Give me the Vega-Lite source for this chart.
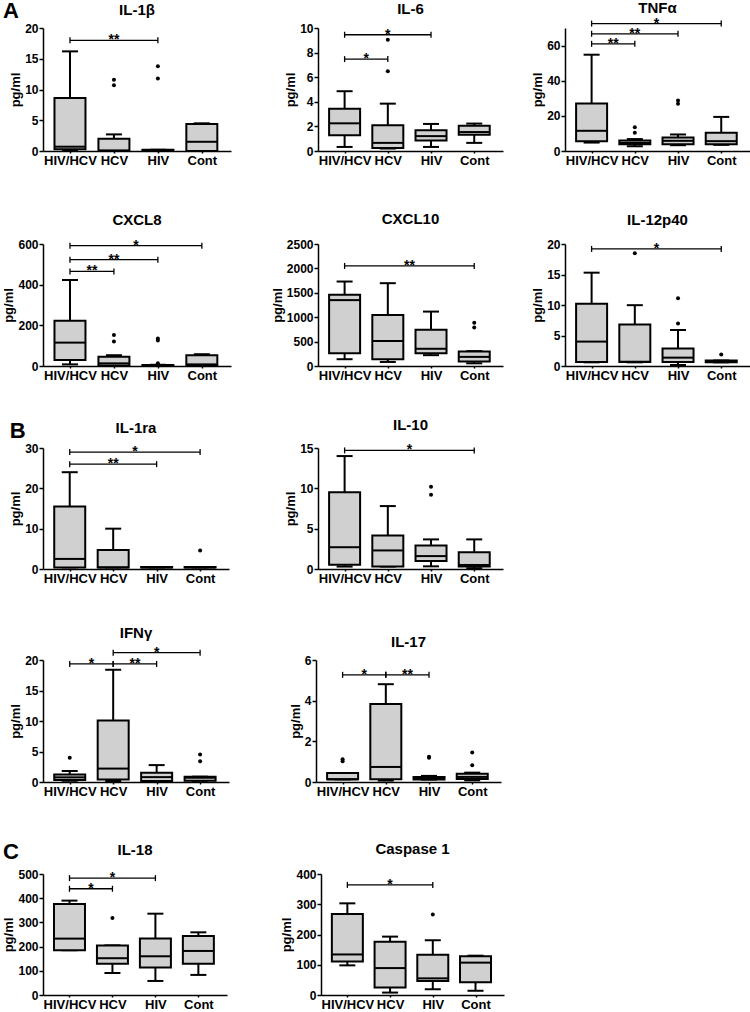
{
"$schema":"https://vega.github.io/schema/vega-lite/v6.json",
"padding":{"left":2,"top":0,"right":0,"bottom":0},
"datasets":{"d":[
{"kind":"box","panel":"IL-1β","group":"HIV/HCV","lo":0.1,"q1":0.3,"med":0.7,"q3":8.6,"hi":16.2},
{"kind":"box","panel":"IL-1β","group":"HCV","lo":0,"q1":0,"med":0.1,"q3":2.0,"hi":2.7},
{"kind":"box","panel":"IL-1β","group":"HIV","lo":0.1,"q1":0.1,"med":0.1,"q3":0.2,"hi":0.2},
{"kind":"box","panel":"IL-1β","group":"Cont","lo":0,"q1":0,"med":1.5,"q3":4.4,"hi":4.5},
{"kind":"out","panel":"IL-1β","group":"HCV","v":11.6},
{"kind":"out","panel":"IL-1β","group":"HCV","v":10.7},
{"kind":"out","panel":"IL-1β","group":"HIV","v":13.8},
{"kind":"out","panel":"IL-1β","group":"HIV","v":11.8},
{"kind":"sig","panel":"IL-1β","g1":"HIV/HCV","g2":"HIV","y":18,"label":"**"},

{"kind":"box","panel":"IL-6","group":"HIV/HCV","lo":0.33,"q1":1.29,"med":2.25,"q3":3.43,"hi":4.86},
{"kind":"box","panel":"IL-6","group":"HCV","lo":0.2,"q1":0.25,"med":0.66,"q3":2.09,"hi":3.85},
{"kind":"box","panel":"IL-6","group":"HIV","lo":0.33,"q1":0.85,"med":1.21,"q3":1.68,"hi":2.2},
{"kind":"box","panel":"IL-6","group":"Cont","lo":0.66,"q1":1.32,"med":1.54,"q3":2.06,"hi":2.23},
{"kind":"out","panel":"IL-6","group":"HCV","v":9.04},
{"kind":"out","panel":"IL-6","group":"HCV","v":6.48},
{"kind":"sig","panel":"IL-6","g1":"HIV/HCV","g2":"HIV","y":9.45,"label":"*"},
{"kind":"sig","panel":"IL-6","g1":"HIV/HCV","g2":"HCV","y":7.47,"label":"*"},

{"kind":"box","panel":"TNFα","group":"HIV/HCV","lo":4.8,"q1":5.6,"med":11.5,"q3":27.1,"hi":54.8},
{"kind":"box","panel":"TNFα","group":"HCV","lo":2.7,"q1":3.8,"med":4.6,"q3":6.0,"hi":6.8},
{"kind":"box","panel":"TNFα","group":"HIV","lo":3.3,"q1":3.8,"med":5.8,"q3":7.7,"hi":9.4},
{"kind":"box","panel":"TNFα","group":"Cont","lo":3.5,"q1":3.8,"med":5.6,"q3":10.4,"hi":19.4},
{"kind":"out","panel":"TNFα","group":"HCV","v":13.5},
{"kind":"out","panel":"TNFα","group":"HCV","v":10.4},
{"kind":"out","panel":"TNFα","group":"HIV","v":28.8},
{"kind":"out","panel":"TNFα","group":"HIV","v":26.9},
{"kind":"sig","panel":"TNFα","g1":"HIV/HCV","g2":"Cont","y":72.5,"label":"*"},
{"kind":"sig","panel":"TNFα","g1":"HIV/HCV","g2":"HIV","y":66.7,"label":"**"},
{"kind":"sig","panel":"TNFα","g1":"HIV/HCV","g2":"HCV","y":61,"label":"**"},

{"kind":"box","panel":"CXCL8","group":"HIV/HCV","lo":8,"q1":30,"med":115,"q3":222,"hi":423},
{"kind":"box","panel":"CXCL8","group":"HCV","lo":0,"q1":3,"med":13,"q3":46,"hi":53},
{"kind":"box","panel":"CXCL8","group":"HIV","lo":0,"q1":0,"med":2,"q3":5,"hi":6},
{"kind":"box","panel":"CXCL8","group":"Cont","lo":0,"q1":0,"med":8,"q3":53,"hi":58},
{"kind":"out","panel":"CXCL8","group":"HCV","v":153},
{"kind":"out","panel":"CXCL8","group":"HCV","v":120},
{"kind":"out","panel":"CXCL8","group":"HIV","v":135},
{"kind":"out","panel":"CXCL8","group":"HIV","v":125},
{"kind":"out","panel":"CXCL8","group":"HIV","v":13},
{"kind":"sig","panel":"CXCL8","g1":"HIV/HCV","g2":"Cont","y":592,"label":"*"},
{"kind":"sig","panel":"CXCL8","g1":"HIV/HCV","g2":"HIV","y":523,"label":"**"},
{"kind":"sig","panel":"CXCL8","g1":"HIV/HCV","g2":"HCV","y":465,"label":"**"},

{"kind":"box","panel":"CXCL10","group":"HIV/HCV","lo":139,"q1":263,"med":1350,"q3":1461,"hi":1731},
{"kind":"box","panel":"CXCL10","group":"HCV","lo":83,"q1":139,"med":512,"q3":1046,"hi":1697},
{"kind":"box","panel":"CXCL10","group":"HIV","lo":222,"q1":263,"med":353,"q3":741,"hi":1115},
{"kind":"box","panel":"CXCL10","group":"Cont","lo":55,"q1":90,"med":187,"q3":298,"hi":305},
{"kind":"out","panel":"CXCL10","group":"Cont","v":790},
{"kind":"out","panel":"CXCL10","group":"Cont","v":886},
{"kind":"sig","panel":"CXCL10","g1":"HIV/HCV","g2":"Cont","y":2050,"label":"**"},

{"kind":"box","panel":"IL-12p40","group":"HIV/HCV","lo":0.6,"q1":0.66,"med":4.0,"q3":10.2,"hi":15.3},
{"kind":"box","panel":"IL-12p40","group":"HCV","lo":0.6,"q1":0.66,"med":0.7,"q3":6.8,"hi":9.97},
{"kind":"box","panel":"IL-12p40","group":"HIV","lo":0.16,"q1":0.66,"med":1.37,"q3":2.85,"hi":5.9},
{"kind":"box","panel":"IL-12p40","group":"Cont","lo":0.6,"q1":0.6,"med":0.7,"q3":0.9,"hi":0.9},
{"kind":"out","panel":"IL-12p40","group":"HCV","v":18.5},
{"kind":"out","panel":"IL-12p40","group":"HIV","v":11.1},
{"kind":"out","panel":"IL-12p40","group":"HIV","v":6.96},
{"kind":"out","panel":"IL-12p40","group":"Cont","v":1.9},
{"kind":"sig","panel":"IL-12p40","g1":"HIV/HCV","g2":"Cont","y":19.2,"label":"*"},

{"kind":"box","panel":"IL-1ra","group":"HIV/HCV","lo":0.4,"q1":0.4,"med":2.5,"q3":15.5,"hi":24.0},
{"kind":"box","panel":"IL-1ra","group":"HCV","lo":0.4,"q1":0.4,"med":0.4,"q3":4.7,"hi":10.0},
{"kind":"box","panel":"IL-1ra","group":"HIV","lo":0.4,"q1":0.4,"med":0.4,"q3":0.5,"hi":0.5},
{"kind":"box","panel":"IL-1ra","group":"Cont","lo":0.4,"q1":0.4,"med":0.4,"q3":0.5,"hi":0.5},
{"kind":"out","panel":"IL-1ra","group":"Cont","v":4.6},
{"kind":"sig","panel":"IL-1ra","g1":"HIV/HCV","g2":"Cont","y":29.0,"label":"*"},
{"kind":"sig","panel":"IL-1ra","g1":"HIV/HCV","g2":"HIV","y":26.0,"label":"**"},

{"kind":"box","panel":"IL-10","group":"HIV/HCV","lo":0.3,"q1":0.53,"med":2.7,"q3":9.5,"hi":14.0},
{"kind":"box","panel":"IL-10","group":"HCV","lo":0.3,"q1":0.3,"med":2.3,"q3":4.16,"hi":7.8},
{"kind":"box","panel":"IL-10","group":"HIV","lo":0.33,"q1":0.98,"med":1.6,"q3":2.9,"hi":3.67},
{"kind":"box","panel":"IL-10","group":"Cont","lo":0.1,"q1":0.3,"med":0.5,"q3":2.08,"hi":3.67},
{"kind":"out","panel":"IL-10","group":"HIV","v":10.2},
{"kind":"out","panel":"IL-10","group":"HIV","v":9.2},
{"kind":"sig","panel":"IL-10","g1":"HIV/HCV","g2":"Cont","y":14.7,"label":"*"},

{"kind":"box","panel":"IFNγ","group":"HIV/HCV","lo":0.2,"q1":0.33,"med":0.76,"q3":1.25,"hi":1.8},
{"kind":"box","panel":"IFNγ","group":"HCV","lo":0.16,"q1":0.43,"med":2.2,"q3":10.1,"hi":18.4},
{"kind":"box","panel":"IFNγ","group":"HIV","lo":0.1,"q1":0.16,"med":0.8,"q3":1.52,"hi":2.77},
{"kind":"box","panel":"IFNγ","group":"Cont","lo":0.2,"q1":0.2,"med":0.7,"q3":0.87,"hi":0.87},
{"kind":"out","panel":"IFNγ","group":"HIV/HCV","v":3.97},
{"kind":"out","panel":"IFNγ","group":"Cont","v":3.4},
{"kind":"out","panel":"IFNγ","group":"Cont","v":4.5},
{"kind":"sig","panel":"IFNγ","g1":"HIV/HCV","g2":"HCV","y":19.35,"label":"*"},
{"kind":"sig","panel":"IFNγ","g1":"HCV","g2":"HIV","y":19.35,"label":"**"},
{"kind":"sig","panel":"IFNγ","g1":"HCV","g2":"Cont","y":21.2,"label":"*"},

{"kind":"box","panel":"IL-17","group":"HIV/HCV","lo":0.13,"q1":0.13,"med":0.13,"q3":0.44,"hi":0.44},
{"kind":"box","panel":"IL-17","group":"HCV","lo":0.07,"q1":0.13,"med":0.74,"q3":3.84,"hi":4.81},
{"kind":"box","panel":"IL-17","group":"HIV","lo":0.12,"q1":0.12,"med":0.18,"q3":0.25,"hi":0.3},
{"kind":"box","panel":"IL-17","group":"Cont","lo":0.08,"q1":0.15,"med":0.25,"q3":0.41,"hi":0.46},
{"kind":"out","panel":"IL-17","group":"HIV/HCV","v":1.02},
{"kind":"out","panel":"IL-17","group":"HIV/HCV","v":1.12},
{"kind":"out","panel":"IL-17","group":"HIV","v":1.19},
{"kind":"out","panel":"IL-17","group":"HIV","v":1.24},
{"kind":"out","panel":"IL-17","group":"Cont","v":1.45},
{"kind":"out","panel":"IL-17","group":"Cont","v":0.82},
{"kind":"sig","panel":"IL-17","g1":"HIV/HCV","g2":"HCV","y":5.27,"label":"*"},
{"kind":"sig","panel":"IL-17","g1":"HCV","g2":"HIV","y":5.27,"label":"**"},

{"kind":"box","panel":"IL-18","group":"HIV/HCV","lo":185,"q1":185,"med":233,"q3":376,"hi":390},
{"kind":"box","panel":"IL-18","group":"HCV","lo":91,"q1":129,"med":152,"q3":205,"hi":205},
{"kind":"box","panel":"IL-18","group":"HIV","lo":58,"q1":114,"med":160,"q3":233,"hi":336},
{"kind":"box","panel":"IL-18","group":"Cont","lo":83,"q1":129,"med":182,"q3":244,"hi":259},
{"kind":"out","panel":"IL-18","group":"HCV","v":318},
{"kind":"sig","panel":"IL-18","g1":"HIV/HCV","g2":"HIV","y":483,"label":"*"},
{"kind":"sig","panel":"IL-18","g1":"HIV/HCV","g2":"HCV","y":439,"label":"*"},

{"kind":"box","panel":"Caspase 1","group":"HIV/HCV","lo":98,"q1":111,"med":134,"q3":268,"hi":303},
{"kind":"box","panel":"Caspase 1","group":"HCV","lo":8,"q1":25,"med":89,"q3":176,"hi":193},
{"kind":"box","panel":"Caspase 1","group":"HIV","lo":19,"q1":46,"med":55,"q3":133,"hi":181},
{"kind":"box","panel":"Caspase 1","group":"Cont","lo":14,"q1":42,"med":107,"q3":128,"hi":130},
{"kind":"out","panel":"Caspase 1","group":"HIV","v":266},
{"kind":"sig","panel":"Caspase 1","g1":"HIV/HCV","g2":"HIV","y":364,"label":"*"}
]},
"spacing":36,
"vconcat":[
{"title":{"text":"A","anchor":"start","fontSize":22,"offset":-22},"spacing":45,"vconcat":[
 {"spacing":53,"hconcat":[
  {"title":{"text":"IL-1β","offset":4},"width":188,"height":123,"data":{"name":"d"},
   "transform":[{"filter":"datum.panel==='IL-1β'"},{"calculate":"indexof(['HIV/HCV','HCV','HIV','Cont'],datum.group)+1","as":"gi"},{"calculate":"indexof(['HIV/HCV','HCV','HIV','Cont'],datum.g1)+1","as":"a"},{"calculate":"indexof(['HIV/HCV','HCV','HIV','Cont'],datum.g2)+1","as":"b"},{"calculate":"(datum.a+datum.b)/2","as":"m"}],
   "encoding":{"x":{"field":"gi","type":"quantitative","title":null,"scale":{"domain":[0.5,4.55],"nice":false,"zero":false},"axis":{"values":[1,2,3,4],"labelExpr":"['HIV/HCV','HCV','HIV','Cont'][datum.value-1]"}},"y":{"field":"lo","type":"quantitative","title":"pg/ml","scale":{"domain":[0,20],"nice":false},"axis":{"values":[0,5,10,15,20]}}},
   "layer":[
{"transform":[{"filter":"datum.kind==='box'"}],"mark":{"type":"rule","color":"black","strokeWidth":2},"encoding":{"y2":{"field":"hi"}}},
{"transform":[{"filter":"datum.kind==='box'"},{"fold":["lo","hi"]}],"mark":{"type":"tick","orient":"horizontal","color":"black","opacity":1,"size":16,"thickness":2},"encoding":{"y":{"field":"value","type":"quantitative","title":"pg/ml"}}},
{"transform":[{"filter":"datum.kind==='box'"}],"mark":{"type":"bar","width":31,"fill":"#d0d0d0","stroke":"black","strokeWidth":2},"encoding":{"y":{"field":"q1","type":"quantitative","title":"pg/ml"},"y2":{"field":"q3"}}},
{"transform":[{"filter":"datum.kind==='box'"}],"mark":{"type":"tick","orient":"horizontal","color":"black","opacity":1,"size":31,"thickness":2},"encoding":{"y":{"field":"med","type":"quantitative","title":"pg/ml"}}},
{"transform":[{"filter":"datum.kind==='out'"}],"mark":{"type":"point","filled":true,"color":"black","size":16,"opacity":1},"encoding":{"y":{"field":"v","type":"quantitative","title":"pg/ml"}}},
{"transform":[{"filter":"datum.kind==='sig'"}],"mark":{"type":"rule","color":"black","strokeWidth":1.3},"encoding":{"x":{"field":"a","type":"quantitative","title":null},"x2":{"field":"b"},"y":{"field":"y","type":"quantitative","title":"pg/ml"}}},
{"transform":[{"filter":"datum.kind==='sig'"},{"fold":["a","b"],"as":["end","pos"]}],"mark":{"type":"tick","orient":"vertical","color":"black","opacity":1,"size":6,"thickness":1.3},"encoding":{"x":{"field":"pos","type":"quantitative","title":null},"y":{"field":"y","type":"quantitative","title":"pg/ml"}}},
{"transform":[{"filter":"datum.kind==='sig'"}],"mark":{"type":"text","fontSize":14,"fontWeight":"bold","baseline":"alphabetic","dy":4,"color":"black"},"encoding":{"x":{"field":"m","type":"quantitative","title":null},"y":{"field":"y","type":"quantitative","title":"pg/ml"},"text":{"field":"label"}}}
   ]},
  {"bounds":"flush","spacing":62,"hconcat":[
  {"title":{"text":"IL-6","offset":5},"width":185,"height":123,"data":{"name":"d"},
   "transform":[{"filter":"datum.panel==='IL-6'"},{"calculate":"indexof(['HIV/HCV','HCV','HIV','Cont'],datum.group)+1","as":"gi"},{"calculate":"indexof(['HIV/HCV','HCV','HIV','Cont'],datum.g1)+1","as":"a"},{"calculate":"indexof(['HIV/HCV','HCV','HIV','Cont'],datum.g2)+1","as":"b"},{"calculate":"(datum.a+datum.b)/2","as":"m"}],
   "encoding":{"x":{"field":"gi","type":"quantitative","title":null,"scale":{"domain":[0.5,4.55],"nice":false,"zero":false},"axis":{"values":[1,2,3,4],"labelExpr":"['HIV/HCV','HCV','HIV','Cont'][datum.value-1]"}},"y":{"field":"lo","type":"quantitative","title":"pg/ml","scale":{"domain":[0,10],"nice":false},"axis":{"values":[0,2,4,6,8,10]}}},
   "layer":[
{"transform":[{"filter":"datum.kind==='box'"}],"mark":{"type":"rule","color":"black","strokeWidth":2},"encoding":{"y2":{"field":"hi"}}},
{"transform":[{"filter":"datum.kind==='box'"},{"fold":["lo","hi"]}],"mark":{"type":"tick","orient":"horizontal","color":"black","opacity":1,"size":16,"thickness":2},"encoding":{"y":{"field":"value","type":"quantitative","title":"pg/ml"}}},
{"transform":[{"filter":"datum.kind==='box'"}],"mark":{"type":"bar","width":31,"fill":"#d0d0d0","stroke":"black","strokeWidth":2},"encoding":{"y":{"field":"q1","type":"quantitative","title":"pg/ml"},"y2":{"field":"q3"}}},
{"transform":[{"filter":"datum.kind==='box'"}],"mark":{"type":"tick","orient":"horizontal","color":"black","opacity":1,"size":31,"thickness":2},"encoding":{"y":{"field":"med","type":"quantitative","title":"pg/ml"}}},
{"transform":[{"filter":"datum.kind==='out'"}],"mark":{"type":"point","filled":true,"color":"black","size":16,"opacity":1},"encoding":{"y":{"field":"v","type":"quantitative","title":"pg/ml"}}},
{"transform":[{"filter":"datum.kind==='sig'"}],"mark":{"type":"rule","color":"black","strokeWidth":1.3},"encoding":{"x":{"field":"a","type":"quantitative","title":null},"x2":{"field":"b"},"y":{"field":"y","type":"quantitative","title":"pg/ml"}}},
{"transform":[{"filter":"datum.kind==='sig'"},{"fold":["a","b"],"as":["end","pos"]}],"mark":{"type":"tick","orient":"vertical","color":"black","opacity":1,"size":6,"thickness":1.3},"encoding":{"x":{"field":"pos","type":"quantitative","title":null},"y":{"field":"y","type":"quantitative","title":"pg/ml"}}},
{"transform":[{"filter":"datum.kind==='sig'"}],"mark":{"type":"text","fontSize":14,"fontWeight":"bold","baseline":"alphabetic","dy":4,"color":"black"},"encoding":{"x":{"field":"m","type":"quantitative","title":null},"y":{"field":"y","type":"quantitative","title":"pg/ml"},"text":{"field":"label"}}}
   ]},
  {"title":{"text":"TNFα","offset":0.5},"width":185,"height":123,"data":{"name":"d"},
   "transform":[{"filter":"datum.panel==='TNFα'"},{"calculate":"indexof(['HIV/HCV','HCV','HIV','Cont'],datum.group)+1","as":"gi"},{"calculate":"indexof(['HIV/HCV','HCV','HIV','Cont'],datum.g1)+1","as":"a"},{"calculate":"indexof(['HIV/HCV','HCV','HIV','Cont'],datum.g2)+1","as":"b"},{"calculate":"(datum.a+datum.b)/2","as":"m"}],
   "encoding":{"x":{"field":"gi","type":"quantitative","title":null,"scale":{"domain":[0.5,4.55],"nice":false,"zero":false},"axis":{"values":[1,2,3,4],"labelExpr":"['HIV/HCV','HCV','HIV','Cont'][datum.value-1]"}},"y":{"field":"lo","type":"quantitative","title":"pg/ml","scale":{"domain":[0,70],"nice":false},"axis":{"values":[0,20,40,60]}}},
   "layer":[
{"transform":[{"filter":"datum.kind==='box'"}],"mark":{"type":"rule","color":"black","strokeWidth":2},"encoding":{"y2":{"field":"hi"}}},
{"transform":[{"filter":"datum.kind==='box'"},{"fold":["lo","hi"]}],"mark":{"type":"tick","orient":"horizontal","color":"black","opacity":1,"size":16,"thickness":2},"encoding":{"y":{"field":"value","type":"quantitative","title":"pg/ml"}}},
{"transform":[{"filter":"datum.kind==='box'"}],"mark":{"type":"bar","width":31,"fill":"#d0d0d0","stroke":"black","strokeWidth":2},"encoding":{"y":{"field":"q1","type":"quantitative","title":"pg/ml"},"y2":{"field":"q3"}}},
{"transform":[{"filter":"datum.kind==='box'"}],"mark":{"type":"tick","orient":"horizontal","color":"black","opacity":1,"size":31,"thickness":2},"encoding":{"y":{"field":"med","type":"quantitative","title":"pg/ml"}}},
{"transform":[{"filter":"datum.kind==='out'"}],"mark":{"type":"point","filled":true,"color":"black","size":16,"opacity":1},"encoding":{"y":{"field":"v","type":"quantitative","title":"pg/ml"}}},
{"transform":[{"filter":"datum.kind==='sig'"}],"mark":{"type":"rule","color":"black","strokeWidth":1.3},"encoding":{"x":{"field":"a","type":"quantitative","title":null},"x2":{"field":"b"},"y":{"field":"y","type":"quantitative","title":"pg/ml"}}},
{"transform":[{"filter":"datum.kind==='sig'"},{"fold":["a","b"],"as":["end","pos"]}],"mark":{"type":"tick","orient":"vertical","color":"black","opacity":1,"size":6,"thickness":1.3},"encoding":{"x":{"field":"pos","type":"quantitative","title":null},"y":{"field":"y","type":"quantitative","title":"pg/ml"}}},
{"transform":[{"filter":"datum.kind==='sig'"}],"mark":{"type":"text","fontSize":14,"fontWeight":"bold","baseline":"alphabetic","dy":4,"color":"black"},"encoding":{"x":{"field":"m","type":"quantitative","title":null},"y":{"field":"y","type":"quantitative","title":"pg/ml"},"text":{"field":"label"}}}
   ]}
  ]}
 ]},
 {"spacing":40,"hconcat":[
  {"title":{"text":"CXCL8","offset":10},"width":188,"height":122,"data":{"name":"d"},
   "transform":[{"filter":"datum.panel==='CXCL8'"},{"calculate":"indexof(['HIV/HCV','HCV','HIV','Cont'],datum.group)+1","as":"gi"},{"calculate":"indexof(['HIV/HCV','HCV','HIV','Cont'],datum.g1)+1","as":"a"},{"calculate":"indexof(['HIV/HCV','HCV','HIV','Cont'],datum.g2)+1","as":"b"},{"calculate":"(datum.a+datum.b)/2","as":"m"}],
   "encoding":{"x":{"field":"gi","type":"quantitative","title":null,"scale":{"domain":[0.5,4.55],"nice":false,"zero":false},"axis":{"values":[1,2,3,4],"labelExpr":"['HIV/HCV','HCV','HIV','Cont'][datum.value-1]"}},"y":{"field":"lo","type":"quantitative","title":"pg/ml","scale":{"domain":[0,600],"nice":false},"axis":{"values":[0,200,400,600]}}},
   "layer":[
{"transform":[{"filter":"datum.kind==='box'"}],"mark":{"type":"rule","color":"black","strokeWidth":2},"encoding":{"y2":{"field":"hi"}}},
{"transform":[{"filter":"datum.kind==='box'"},{"fold":["lo","hi"]}],"mark":{"type":"tick","orient":"horizontal","color":"black","opacity":1,"size":16,"thickness":2},"encoding":{"y":{"field":"value","type":"quantitative","title":"pg/ml"}}},
{"transform":[{"filter":"datum.kind==='box'"}],"mark":{"type":"bar","width":31,"fill":"#d0d0d0","stroke":"black","strokeWidth":2},"encoding":{"y":{"field":"q1","type":"quantitative","title":"pg/ml"},"y2":{"field":"q3"}}},
{"transform":[{"filter":"datum.kind==='box'"}],"mark":{"type":"tick","orient":"horizontal","color":"black","opacity":1,"size":31,"thickness":2},"encoding":{"y":{"field":"med","type":"quantitative","title":"pg/ml"}}},
{"transform":[{"filter":"datum.kind==='out'"}],"mark":{"type":"point","filled":true,"color":"black","size":16,"opacity":1},"encoding":{"y":{"field":"v","type":"quantitative","title":"pg/ml"}}},
{"transform":[{"filter":"datum.kind==='sig'"}],"mark":{"type":"rule","color":"black","strokeWidth":1.3},"encoding":{"x":{"field":"a","type":"quantitative","title":null},"x2":{"field":"b"},"y":{"field":"y","type":"quantitative","title":"pg/ml"}}},
{"transform":[{"filter":"datum.kind==='sig'"},{"fold":["a","b"],"as":["end","pos"]}],"mark":{"type":"tick","orient":"vertical","color":"black","opacity":1,"size":6,"thickness":1.3},"encoding":{"x":{"field":"pos","type":"quantitative","title":null},"y":{"field":"y","type":"quantitative","title":"pg/ml"}}},
{"transform":[{"filter":"datum.kind==='sig'"}],"mark":{"type":"text","fontSize":14,"fontWeight":"bold","baseline":"alphabetic","dy":4,"color":"black"},"encoding":{"x":{"field":"m","type":"quantitative","title":null},"y":{"field":"y","type":"quantitative","title":"pg/ml"},"text":{"field":"label"}}}
   ]},
  {"bounds":"flush","spacing":62,"hconcat":[
  {"title":{"text":"CXCL10","offset":11},"width":185,"height":122,"data":{"name":"d"},
   "transform":[{"filter":"datum.panel==='CXCL10'"},{"calculate":"indexof(['HIV/HCV','HCV','HIV','Cont'],datum.group)+1","as":"gi"},{"calculate":"indexof(['HIV/HCV','HCV','HIV','Cont'],datum.g1)+1","as":"a"},{"calculate":"indexof(['HIV/HCV','HCV','HIV','Cont'],datum.g2)+1","as":"b"},{"calculate":"(datum.a+datum.b)/2","as":"m"}],
   "encoding":{"x":{"field":"gi","type":"quantitative","title":null,"scale":{"domain":[0.5,4.55],"nice":false,"zero":false},"axis":{"values":[1,2,3,4],"labelExpr":"['HIV/HCV','HCV','HIV','Cont'][datum.value-1]"}},"y":{"field":"lo","type":"quantitative","title":"pg/ml","scale":{"domain":[0,2500],"nice":false},"axis":{"values":[0,500,1000,1500,2000,2500]}}},
   "layer":[
{"transform":[{"filter":"datum.kind==='box'"}],"mark":{"type":"rule","color":"black","strokeWidth":2},"encoding":{"y2":{"field":"hi"}}},
{"transform":[{"filter":"datum.kind==='box'"},{"fold":["lo","hi"]}],"mark":{"type":"tick","orient":"horizontal","color":"black","opacity":1,"size":16,"thickness":2},"encoding":{"y":{"field":"value","type":"quantitative","title":"pg/ml"}}},
{"transform":[{"filter":"datum.kind==='box'"}],"mark":{"type":"bar","width":31,"fill":"#d0d0d0","stroke":"black","strokeWidth":2},"encoding":{"y":{"field":"q1","type":"quantitative","title":"pg/ml"},"y2":{"field":"q3"}}},
{"transform":[{"filter":"datum.kind==='box'"}],"mark":{"type":"tick","orient":"horizontal","color":"black","opacity":1,"size":31,"thickness":2},"encoding":{"y":{"field":"med","type":"quantitative","title":"pg/ml"}}},
{"transform":[{"filter":"datum.kind==='out'"}],"mark":{"type":"point","filled":true,"color":"black","size":16,"opacity":1},"encoding":{"y":{"field":"v","type":"quantitative","title":"pg/ml"}}},
{"transform":[{"filter":"datum.kind==='sig'"}],"mark":{"type":"rule","color":"black","strokeWidth":1.3},"encoding":{"x":{"field":"a","type":"quantitative","title":null},"x2":{"field":"b"},"y":{"field":"y","type":"quantitative","title":"pg/ml"}}},
{"transform":[{"filter":"datum.kind==='sig'"},{"fold":["a","b"],"as":["end","pos"]}],"mark":{"type":"tick","orient":"vertical","color":"black","opacity":1,"size":6,"thickness":1.3},"encoding":{"x":{"field":"pos","type":"quantitative","title":null},"y":{"field":"y","type":"quantitative","title":"pg/ml"}}},
{"transform":[{"filter":"datum.kind==='sig'"}],"mark":{"type":"text","fontSize":14,"fontWeight":"bold","baseline":"alphabetic","dy":4,"color":"black"},"encoding":{"x":{"field":"m","type":"quantitative","title":null},"y":{"field":"y","type":"quantitative","title":"pg/ml"},"text":{"field":"label"}}}
   ]},
  {"title":{"text":"IL-12p40","offset":10},"width":185,"height":122,"data":{"name":"d"},
   "transform":[{"filter":"datum.panel==='IL-12p40'"},{"calculate":"indexof(['HIV/HCV','HCV','HIV','Cont'],datum.group)+1","as":"gi"},{"calculate":"indexof(['HIV/HCV','HCV','HIV','Cont'],datum.g1)+1","as":"a"},{"calculate":"indexof(['HIV/HCV','HCV','HIV','Cont'],datum.g2)+1","as":"b"},{"calculate":"(datum.a+datum.b)/2","as":"m"}],
   "encoding":{"x":{"field":"gi","type":"quantitative","title":null,"scale":{"domain":[0.5,4.55],"nice":false,"zero":false},"axis":{"values":[1,2,3,4],"labelExpr":"['HIV/HCV','HCV','HIV','Cont'][datum.value-1]"}},"y":{"field":"lo","type":"quantitative","title":"pg/ml","scale":{"domain":[0,20],"nice":false},"axis":{"values":[0,5,10,15,20]}}},
   "layer":[
{"transform":[{"filter":"datum.kind==='box'"}],"mark":{"type":"rule","color":"black","strokeWidth":2},"encoding":{"y2":{"field":"hi"}}},
{"transform":[{"filter":"datum.kind==='box'"},{"fold":["lo","hi"]}],"mark":{"type":"tick","orient":"horizontal","color":"black","opacity":1,"size":16,"thickness":2},"encoding":{"y":{"field":"value","type":"quantitative","title":"pg/ml"}}},
{"transform":[{"filter":"datum.kind==='box'"}],"mark":{"type":"bar","width":31,"fill":"#d0d0d0","stroke":"black","strokeWidth":2},"encoding":{"y":{"field":"q1","type":"quantitative","title":"pg/ml"},"y2":{"field":"q3"}}},
{"transform":[{"filter":"datum.kind==='box'"}],"mark":{"type":"tick","orient":"horizontal","color":"black","opacity":1,"size":31,"thickness":2},"encoding":{"y":{"field":"med","type":"quantitative","title":"pg/ml"}}},
{"transform":[{"filter":"datum.kind==='out'"}],"mark":{"type":"point","filled":true,"color":"black","size":16,"opacity":1},"encoding":{"y":{"field":"v","type":"quantitative","title":"pg/ml"}}},
{"transform":[{"filter":"datum.kind==='sig'"}],"mark":{"type":"rule","color":"black","strokeWidth":1.3},"encoding":{"x":{"field":"a","type":"quantitative","title":null},"x2":{"field":"b"},"y":{"field":"y","type":"quantitative","title":"pg/ml"}}},
{"transform":[{"filter":"datum.kind==='sig'"},{"fold":["a","b"],"as":["end","pos"]}],"mark":{"type":"tick","orient":"vertical","color":"black","opacity":1,"size":6,"thickness":1.3},"encoding":{"x":{"field":"pos","type":"quantitative","title":null},"y":{"field":"y","type":"quantitative","title":"pg/ml"}}},
{"transform":[{"filter":"datum.kind==='sig'"}],"mark":{"type":"text","fontSize":14,"fontWeight":"bold","baseline":"alphabetic","dy":4,"color":"black"},"encoding":{"x":{"field":"m","type":"quantitative","title":null},"y":{"field":"y","type":"quantitative","title":"pg/ml"},"text":{"field":"label"}}}
   ]}
  ]}
 ]}
]},
{"spacing":43,"vconcat":[
{"title":{"text":"B","anchor":"start","fontSize":22,"offset":-25},"spacing":40,"vconcat":[
 {"spacing":55,"hconcat":[
  {"title":{"text":"IL-1ra","offset":6},"width":186,"height":121,"data":{"name":"d"},
   "transform":[{"filter":"datum.panel==='IL-1ra'"},{"calculate":"indexof(['HIV/HCV','HCV','HIV','Cont'],datum.group)+1","as":"gi"},{"calculate":"indexof(['HIV/HCV','HCV','HIV','Cont'],datum.g1)+1","as":"a"},{"calculate":"indexof(['HIV/HCV','HCV','HIV','Cont'],datum.g2)+1","as":"b"},{"calculate":"(datum.a+datum.b)/2","as":"m"}],
   "encoding":{"x":{"field":"gi","type":"quantitative","title":null,"scale":{"domain":[0.5,4.55],"nice":false,"zero":false},"axis":{"values":[1,2,3,4],"labelExpr":"['HIV/HCV','HCV','HIV','Cont'][datum.value-1]"}},"y":{"field":"lo","type":"quantitative","title":"pg/ml","scale":{"domain":[0,30],"nice":false},"axis":{"values":[0,10,20,30]}}},
   "layer":[
{"transform":[{"filter":"datum.kind==='box'"}],"mark":{"type":"rule","color":"black","strokeWidth":2},"encoding":{"y2":{"field":"hi"}}},
{"transform":[{"filter":"datum.kind==='box'"},{"fold":["lo","hi"]}],"mark":{"type":"tick","orient":"horizontal","color":"black","opacity":1,"size":16,"thickness":2},"encoding":{"y":{"field":"value","type":"quantitative","title":"pg/ml"}}},
{"transform":[{"filter":"datum.kind==='box'"}],"mark":{"type":"bar","width":31,"fill":"#d0d0d0","stroke":"black","strokeWidth":2},"encoding":{"y":{"field":"q1","type":"quantitative","title":"pg/ml"},"y2":{"field":"q3"}}},
{"transform":[{"filter":"datum.kind==='box'"}],"mark":{"type":"tick","orient":"horizontal","color":"black","opacity":1,"size":31,"thickness":2},"encoding":{"y":{"field":"med","type":"quantitative","title":"pg/ml"}}},
{"transform":[{"filter":"datum.kind==='out'"}],"mark":{"type":"point","filled":true,"color":"black","size":16,"opacity":1},"encoding":{"y":{"field":"v","type":"quantitative","title":"pg/ml"}}},
{"transform":[{"filter":"datum.kind==='sig'"}],"mark":{"type":"rule","color":"black","strokeWidth":1.3},"encoding":{"x":{"field":"a","type":"quantitative","title":null},"x2":{"field":"b"},"y":{"field":"y","type":"quantitative","title":"pg/ml"}}},
{"transform":[{"filter":"datum.kind==='sig'"},{"fold":["a","b"],"as":["end","pos"]}],"mark":{"type":"tick","orient":"vertical","color":"black","opacity":1,"size":6,"thickness":1.3},"encoding":{"x":{"field":"pos","type":"quantitative","title":null},"y":{"field":"y","type":"quantitative","title":"pg/ml"}}},
{"transform":[{"filter":"datum.kind==='sig'"}],"mark":{"type":"text","fontSize":14,"fontWeight":"bold","baseline":"alphabetic","dy":4,"color":"black"},"encoding":{"x":{"field":"m","type":"quantitative","title":null},"y":{"field":"y","type":"quantitative","title":"pg/ml"},"text":{"field":"label"}}}
   ]},
  {"title":{"text":"IL-10","offset":9},"width":185,"height":121,"data":{"name":"d"},
   "transform":[{"filter":"datum.panel==='IL-10'"},{"calculate":"indexof(['HIV/HCV','HCV','HIV','Cont'],datum.group)+1","as":"gi"},{"calculate":"indexof(['HIV/HCV','HCV','HIV','Cont'],datum.g1)+1","as":"a"},{"calculate":"indexof(['HIV/HCV','HCV','HIV','Cont'],datum.g2)+1","as":"b"},{"calculate":"(datum.a+datum.b)/2","as":"m"}],
   "encoding":{"x":{"field":"gi","type":"quantitative","title":null,"scale":{"domain":[0.5,4.55],"nice":false,"zero":false},"axis":{"values":[1,2,3,4],"labelExpr":"['HIV/HCV','HCV','HIV','Cont'][datum.value-1]"}},"y":{"field":"lo","type":"quantitative","title":"pg/ml","scale":{"domain":[0,15],"nice":false},"axis":{"values":[0,5,10,15]}}},
   "layer":[
{"transform":[{"filter":"datum.kind==='box'"}],"mark":{"type":"rule","color":"black","strokeWidth":2},"encoding":{"y2":{"field":"hi"}}},
{"transform":[{"filter":"datum.kind==='box'"},{"fold":["lo","hi"]}],"mark":{"type":"tick","orient":"horizontal","color":"black","opacity":1,"size":16,"thickness":2},"encoding":{"y":{"field":"value","type":"quantitative","title":"pg/ml"}}},
{"transform":[{"filter":"datum.kind==='box'"}],"mark":{"type":"bar","width":31,"fill":"#d0d0d0","stroke":"black","strokeWidth":2},"encoding":{"y":{"field":"q1","type":"quantitative","title":"pg/ml"},"y2":{"field":"q3"}}},
{"transform":[{"filter":"datum.kind==='box'"}],"mark":{"type":"tick","orient":"horizontal","color":"black","opacity":1,"size":31,"thickness":2},"encoding":{"y":{"field":"med","type":"quantitative","title":"pg/ml"}}},
{"transform":[{"filter":"datum.kind==='out'"}],"mark":{"type":"point","filled":true,"color":"black","size":16,"opacity":1},"encoding":{"y":{"field":"v","type":"quantitative","title":"pg/ml"}}},
{"transform":[{"filter":"datum.kind==='sig'"}],"mark":{"type":"rule","color":"black","strokeWidth":1.3},"encoding":{"x":{"field":"a","type":"quantitative","title":null},"x2":{"field":"b"},"y":{"field":"y","type":"quantitative","title":"pg/ml"}}},
{"transform":[{"filter":"datum.kind==='sig'"},{"fold":["a","b"],"as":["end","pos"]}],"mark":{"type":"tick","orient":"vertical","color":"black","opacity":1,"size":6,"thickness":1.3},"encoding":{"x":{"field":"pos","type":"quantitative","title":null},"y":{"field":"y","type":"quantitative","title":"pg/ml"}}},
{"transform":[{"filter":"datum.kind==='sig'"}],"mark":{"type":"text","fontSize":14,"fontWeight":"bold","baseline":"alphabetic","dy":4,"color":"black"},"encoding":{"x":{"field":"m","type":"quantitative","title":null},"y":{"field":"y","type":"quantitative","title":"pg/ml"},"text":{"field":"label"}}}
   ]}
 ]},
 {"spacing":60,"hconcat":[
  {"title":{"text":"IFNγ","offset":5},"width":186,"height":122,"data":{"name":"d"},
   "transform":[{"filter":"datum.panel==='IFNγ'"},{"calculate":"indexof(['HIV/HCV','HCV','HIV','Cont'],datum.group)+1","as":"gi"},{"calculate":"indexof(['HIV/HCV','HCV','HIV','Cont'],datum.g1)+1","as":"a"},{"calculate":"indexof(['HIV/HCV','HCV','HIV','Cont'],datum.g2)+1","as":"b"},{"calculate":"(datum.a+datum.b)/2","as":"m"}],
   "encoding":{"x":{"field":"gi","type":"quantitative","title":null,"scale":{"domain":[0.5,4.55],"nice":false,"zero":false},"axis":{"values":[1,2,3,4],"labelExpr":"['HIV/HCV','HCV','HIV','Cont'][datum.value-1]"}},"y":{"field":"lo","type":"quantitative","title":"pg/ml","scale":{"domain":[0,20],"nice":false},"axis":{"values":[0,5,10,15,20]}}},
   "layer":[
{"transform":[{"filter":"datum.kind==='box'"}],"mark":{"type":"rule","color":"black","strokeWidth":2},"encoding":{"y2":{"field":"hi"}}},
{"transform":[{"filter":"datum.kind==='box'"},{"fold":["lo","hi"]}],"mark":{"type":"tick","orient":"horizontal","color":"black","opacity":1,"size":16,"thickness":2},"encoding":{"y":{"field":"value","type":"quantitative","title":"pg/ml"}}},
{"transform":[{"filter":"datum.kind==='box'"}],"mark":{"type":"bar","width":31,"fill":"#d0d0d0","stroke":"black","strokeWidth":2},"encoding":{"y":{"field":"q1","type":"quantitative","title":"pg/ml"},"y2":{"field":"q3"}}},
{"transform":[{"filter":"datum.kind==='box'"}],"mark":{"type":"tick","orient":"horizontal","color":"black","opacity":1,"size":31,"thickness":2},"encoding":{"y":{"field":"med","type":"quantitative","title":"pg/ml"}}},
{"transform":[{"filter":"datum.kind==='out'"}],"mark":{"type":"point","filled":true,"color":"black","size":16,"opacity":1},"encoding":{"y":{"field":"v","type":"quantitative","title":"pg/ml"}}},
{"transform":[{"filter":"datum.kind==='sig'"}],"mark":{"type":"rule","color":"black","strokeWidth":1.3},"encoding":{"x":{"field":"a","type":"quantitative","title":null},"x2":{"field":"b"},"y":{"field":"y","type":"quantitative","title":"pg/ml"}}},
{"transform":[{"filter":"datum.kind==='sig'"},{"fold":["a","b"],"as":["end","pos"]}],"mark":{"type":"tick","orient":"vertical","color":"black","opacity":1,"size":6,"thickness":1.3},"encoding":{"x":{"field":"pos","type":"quantitative","title":null},"y":{"field":"y","type":"quantitative","title":"pg/ml"}}},
{"transform":[{"filter":"datum.kind==='sig'"}],"mark":{"type":"text","fontSize":14,"fontWeight":"bold","baseline":"alphabetic","dy":4,"color":"black"},"encoding":{"x":{"field":"m","type":"quantitative","title":null},"y":{"field":"y","type":"quantitative","title":"pg/ml"},"text":{"field":"label"}}}
   ]},
  {"title":{"text":"IL-17","offset":4},"width":185,"height":122,"data":{"name":"d"},
   "transform":[{"filter":"datum.panel==='IL-17'"},{"calculate":"indexof(['HIV/HCV','HCV','HIV','Cont'],datum.group)+1","as":"gi"},{"calculate":"indexof(['HIV/HCV','HCV','HIV','Cont'],datum.g1)+1","as":"a"},{"calculate":"indexof(['HIV/HCV','HCV','HIV','Cont'],datum.g2)+1","as":"b"},{"calculate":"(datum.a+datum.b)/2","as":"m"}],
   "encoding":{"x":{"field":"gi","type":"quantitative","title":null,"scale":{"domain":[0.5,4.55],"nice":false,"zero":false},"axis":{"values":[1,2,3,4],"labelExpr":"['HIV/HCV','HCV','HIV','Cont'][datum.value-1]"}},"y":{"field":"lo","type":"quantitative","title":"pg/ml","scale":{"domain":[0,6],"nice":false},"axis":{"values":[0,2,4,6]}}},
   "layer":[
{"transform":[{"filter":"datum.kind==='box'"}],"mark":{"type":"rule","color":"black","strokeWidth":2},"encoding":{"y2":{"field":"hi"}}},
{"transform":[{"filter":"datum.kind==='box'"},{"fold":["lo","hi"]}],"mark":{"type":"tick","orient":"horizontal","color":"black","opacity":1,"size":16,"thickness":2},"encoding":{"y":{"field":"value","type":"quantitative","title":"pg/ml"}}},
{"transform":[{"filter":"datum.kind==='box'"}],"mark":{"type":"bar","width":31,"fill":"#d0d0d0","stroke":"black","strokeWidth":2},"encoding":{"y":{"field":"q1","type":"quantitative","title":"pg/ml"},"y2":{"field":"q3"}}},
{"transform":[{"filter":"datum.kind==='box'"}],"mark":{"type":"tick","orient":"horizontal","color":"black","opacity":1,"size":31,"thickness":2},"encoding":{"y":{"field":"med","type":"quantitative","title":"pg/ml"}}},
{"transform":[{"filter":"datum.kind==='out'"}],"mark":{"type":"point","filled":true,"color":"black","size":16,"opacity":1},"encoding":{"y":{"field":"v","type":"quantitative","title":"pg/ml"}}},
{"transform":[{"filter":"datum.kind==='sig'"}],"mark":{"type":"rule","color":"black","strokeWidth":1.3},"encoding":{"x":{"field":"a","type":"quantitative","title":null},"x2":{"field":"b"},"y":{"field":"y","type":"quantitative","title":"pg/ml"}}},
{"transform":[{"filter":"datum.kind==='sig'"},{"fold":["a","b"],"as":["end","pos"]}],"mark":{"type":"tick","orient":"vertical","color":"black","opacity":1,"size":6,"thickness":1.3},"encoding":{"x":{"field":"pos","type":"quantitative","title":null},"y":{"field":"y","type":"quantitative","title":"pg/ml"}}},
{"transform":[{"filter":"datum.kind==='sig'"}],"mark":{"type":"text","fontSize":14,"fontWeight":"bold","baseline":"alphabetic","dy":4,"color":"black"},"encoding":{"x":{"field":"m","type":"quantitative","title":null},"y":{"field":"y","type":"quantitative","title":"pg/ml"},"text":{"field":"label"}}}
   ]}
 ]}
]},
{"title":{"text":"C","anchor":"start","fontSize":22,"offset":-22},"spacing":53,"hconcat":[
  {"title":{"text":"IL-18","offset":10},"width":184,"height":121,"data":{"name":"d"},
   "transform":[{"filter":"datum.panel==='IL-18'"},{"calculate":"indexof(['HIV/HCV','HCV','HIV','Cont'],datum.group)+1","as":"gi"},{"calculate":"indexof(['HIV/HCV','HCV','HIV','Cont'],datum.g1)+1","as":"a"},{"calculate":"indexof(['HIV/HCV','HCV','HIV','Cont'],datum.g2)+1","as":"b"},{"calculate":"(datum.a+datum.b)/2","as":"m"}],
   "encoding":{"x":{"field":"gi","type":"quantitative","title":null,"scale":{"domain":[0.5,4.55],"nice":false,"zero":false},"axis":{"values":[1,2,3,4],"labelExpr":"['HIV/HCV','HCV','HIV','Cont'][datum.value-1]"}},"y":{"field":"lo","type":"quantitative","title":"pg/ml","scale":{"domain":[0,500],"nice":false},"axis":{"values":[0,100,200,300,400,500]}}},
   "layer":[
{"transform":[{"filter":"datum.kind==='box'"}],"mark":{"type":"rule","color":"black","strokeWidth":2},"encoding":{"y2":{"field":"hi"}}},
{"transform":[{"filter":"datum.kind==='box'"},{"fold":["lo","hi"]}],"mark":{"type":"tick","orient":"horizontal","color":"black","opacity":1,"size":16,"thickness":2},"encoding":{"y":{"field":"value","type":"quantitative","title":"pg/ml"}}},
{"transform":[{"filter":"datum.kind==='box'"}],"mark":{"type":"bar","width":31,"fill":"#d0d0d0","stroke":"black","strokeWidth":2},"encoding":{"y":{"field":"q1","type":"quantitative","title":"pg/ml"},"y2":{"field":"q3"}}},
{"transform":[{"filter":"datum.kind==='box'"}],"mark":{"type":"tick","orient":"horizontal","color":"black","opacity":1,"size":31,"thickness":2},"encoding":{"y":{"field":"med","type":"quantitative","title":"pg/ml"}}},
{"transform":[{"filter":"datum.kind==='out'"}],"mark":{"type":"point","filled":true,"color":"black","size":16,"opacity":1},"encoding":{"y":{"field":"v","type":"quantitative","title":"pg/ml"}}},
{"transform":[{"filter":"datum.kind==='sig'"}],"mark":{"type":"rule","color":"black","strokeWidth":1.3},"encoding":{"x":{"field":"a","type":"quantitative","title":null},"x2":{"field":"b"},"y":{"field":"y","type":"quantitative","title":"pg/ml"}}},
{"transform":[{"filter":"datum.kind==='sig'"},{"fold":["a","b"],"as":["end","pos"]}],"mark":{"type":"tick","orient":"vertical","color":"black","opacity":1,"size":6,"thickness":1.3},"encoding":{"x":{"field":"pos","type":"quantitative","title":null},"y":{"field":"y","type":"quantitative","title":"pg/ml"}}},
{"transform":[{"filter":"datum.kind==='sig'"}],"mark":{"type":"text","fontSize":14,"fontWeight":"bold","baseline":"alphabetic","dy":4,"color":"black"},"encoding":{"x":{"field":"m","type":"quantitative","title":null},"y":{"field":"y","type":"quantitative","title":"pg/ml"},"text":{"field":"label"}}}
   ]},
  {"title":{"text":"Caspase 1","offset":11},"width":183,"height":121,"data":{"name":"d"},
   "transform":[{"filter":"datum.panel==='Caspase 1'"},{"calculate":"indexof(['HIV/HCV','HCV','HIV','Cont'],datum.group)+1","as":"gi"},{"calculate":"indexof(['HIV/HCV','HCV','HIV','Cont'],datum.g1)+1","as":"a"},{"calculate":"indexof(['HIV/HCV','HCV','HIV','Cont'],datum.g2)+1","as":"b"},{"calculate":"(datum.a+datum.b)/2","as":"m"}],
   "encoding":{"x":{"field":"gi","type":"quantitative","title":null,"scale":{"domain":[0.5,4.55],"nice":false,"zero":false},"axis":{"values":[1,2,3,4],"labelExpr":"['HIV/HCV','HCV','HIV','Cont'][datum.value-1]"}},"y":{"field":"lo","type":"quantitative","title":"pg/ml","scale":{"domain":[0,400],"nice":false},"axis":{"values":[0,100,200,300,400]}}},
   "layer":[
{"transform":[{"filter":"datum.kind==='box'"}],"mark":{"type":"rule","color":"black","strokeWidth":2},"encoding":{"y2":{"field":"hi"}}},
{"transform":[{"filter":"datum.kind==='box'"},{"fold":["lo","hi"]}],"mark":{"type":"tick","orient":"horizontal","color":"black","opacity":1,"size":16,"thickness":2},"encoding":{"y":{"field":"value","type":"quantitative","title":"pg/ml"}}},
{"transform":[{"filter":"datum.kind==='box'"}],"mark":{"type":"bar","width":31,"fill":"#d0d0d0","stroke":"black","strokeWidth":2},"encoding":{"y":{"field":"q1","type":"quantitative","title":"pg/ml"},"y2":{"field":"q3"}}},
{"transform":[{"filter":"datum.kind==='box'"}],"mark":{"type":"tick","orient":"horizontal","color":"black","opacity":1,"size":31,"thickness":2},"encoding":{"y":{"field":"med","type":"quantitative","title":"pg/ml"}}},
{"transform":[{"filter":"datum.kind==='out'"}],"mark":{"type":"point","filled":true,"color":"black","size":16,"opacity":1},"encoding":{"y":{"field":"v","type":"quantitative","title":"pg/ml"}}},
{"transform":[{"filter":"datum.kind==='sig'"}],"mark":{"type":"rule","color":"black","strokeWidth":1.3},"encoding":{"x":{"field":"a","type":"quantitative","title":null},"x2":{"field":"b"},"y":{"field":"y","type":"quantitative","title":"pg/ml"}}},
{"transform":[{"filter":"datum.kind==='sig'"},{"fold":["a","b"],"as":["end","pos"]}],"mark":{"type":"tick","orient":"vertical","color":"black","opacity":1,"size":6,"thickness":1.3},"encoding":{"x":{"field":"pos","type":"quantitative","title":null},"y":{"field":"y","type":"quantitative","title":"pg/ml"}}},
{"transform":[{"filter":"datum.kind==='sig'"}],"mark":{"type":"text","fontSize":14,"fontWeight":"bold","baseline":"alphabetic","dy":4,"color":"black"},"encoding":{"x":{"field":"m","type":"quantitative","title":null},"y":{"field":"y","type":"quantitative","title":"pg/ml"},"text":{"field":"label"}}}
   ]}
]}
]}
],
"config":{
 "view":{"stroke":null},
 "font":"Liberation Sans",
 "axis":{"grid":false,"domainColor":"black","domainWidth":1.5,"tickColor":"black","tickWidth":1.5,"labelColor":"black","labelFontWeight":"bold","titleColor":"black","titleFontWeight":"bold","labelFont":"Liberation Sans","titleFont":"Liberation Sans"},
 "axisY":{"labelFontSize":12,"titleFontSize":13,"tickSize":4,"labelPadding":1,"titlePadding":2,"format":"d"},
 "axisX":{"labelFontSize":13,"tickSize":2,"labelPadding":1,"labelOverlap":false,"labelFlush":false},
 "title":{"font":"Liberation Sans","fontSize":15,"fontWeight":"bold","color":"black","offset":6}
}
}
